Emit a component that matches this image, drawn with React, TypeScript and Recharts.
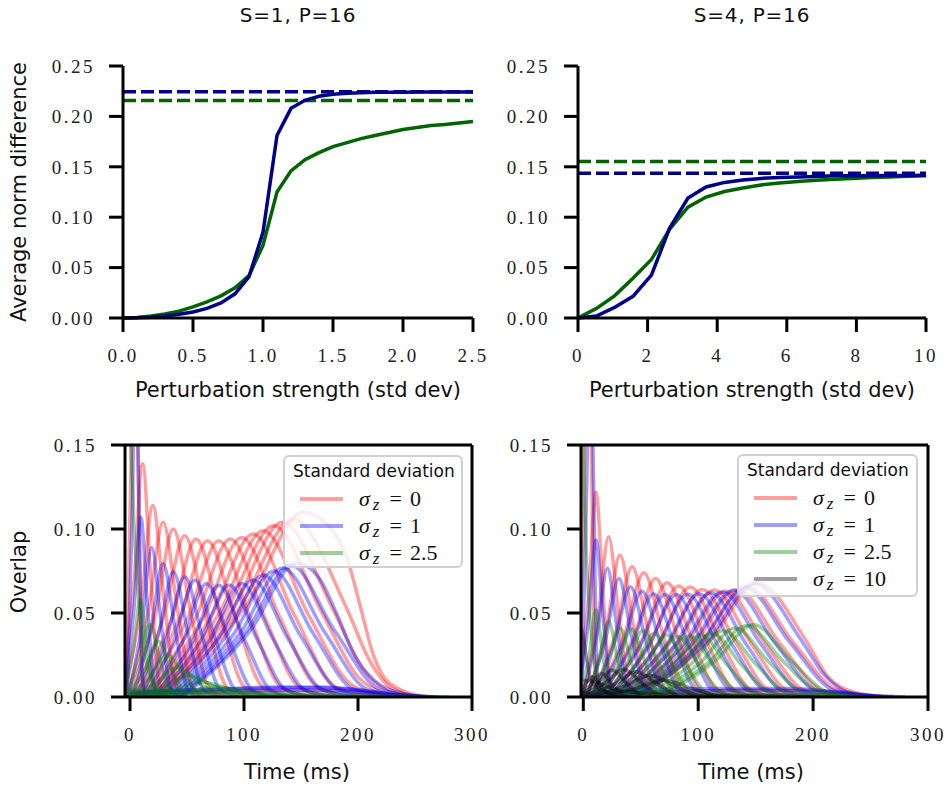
import { LineChart, Line, XAxis, YAxis, ReferenceLine } from 'recharts'

type Pt = [number, number]
type Curve = Pt[]

// ---- top row: average norm difference vs perturbation strength ----
const s1Strength = [0, 0.1, 0.2, 0.3, 0.4, 0.5, 0.6, 0.7, 0.8, 0.9, 1.0, 1.1, 1.2, 1.3, 1.4, 1.5, 1.6, 1.7, 1.8, 1.9, 2.0, 2.1, 2.2, 2.3, 2.4, 2.5]
const s1Blue = [0, 0.0002, 0.0008, 0.002, 0.0038, 0.006, 0.0095, 0.015, 0.024, 0.041, 0.085, 0.181, 0.208, 0.216, 0.22, 0.222, 0.223, 0.2235, 0.224, 0.224, 0.224, 0.2242, 0.2242, 0.2243, 0.2243, 0.2243]
const s1Green = [0, 0.0006, 0.002, 0.004, 0.0068, 0.011, 0.016, 0.022, 0.03, 0.042, 0.072, 0.125, 0.146, 0.157, 0.164, 0.17, 0.174, 0.178, 0.181, 0.184, 0.187, 0.189, 0.191, 0.192, 0.1935, 0.195]
const s1BlueRef = 0.2245
const s1GreenRef = 0.2157

const s4Strength = [0, 0.53, 1.05, 1.58, 2.11, 2.63, 3.16, 3.68, 4.21, 4.74, 5.26, 5.79, 6.32, 6.84, 7.37, 7.89, 8.42, 8.95, 9.47, 10]
const s4Blue = [0, 0.002, 0.0105, 0.0215, 0.0425, 0.089, 0.119, 0.13, 0.1345, 0.137, 0.1385, 0.1395, 0.14, 0.1405, 0.141, 0.141, 0.1412, 0.1413, 0.1414, 0.1415]
const s4Green = [0, 0.0095, 0.022, 0.0395, 0.058, 0.088, 0.11, 0.12, 0.1255, 0.129, 0.132, 0.134, 0.1355, 0.1367, 0.1377, 0.1385, 0.1393, 0.14, 0.1407, 0.1412]
const s4BlueRef = 0.1435
const s4GreenRef = 0.1553

const s1Ticks = [0, 0.5, 1, 1.5, 2, 2.5]
const s4Ticks = [0, 2, 4, 6, 8, 10]
const normTicks = [0, 0.05, 0.1, 0.15, 0.2, 0.25]

// ---- bottom row: overlap vs time, one curve per pattern ----
const timeTicks = [0, 100, 200, 300]
const overlapTicks = [0, 0.05, 0.1, 0.15]

const leftRed: Curve[] = [
  [[-3.5, 0], [1, 0.14], [4, 0.28], [7, 0.14], [10, 0.017], [13, 0]],
  [[-7, 0], [3.7, 0.07], [11, 0.139], [18.3, 0.07], [25.6, 0.008], [33, 0]],
  [[-5, 0], [10, 0.057], [20, 0.114], [30, 0.057], [40, 0.007], [50, 0]],
  [[-3, 0], [16.3, 0.052], [29, 0.104], [41.7, 0.052], [54.4, 0.006], [67, 0]],
  [[-0.5, 0], [22.6, 0.05], [38, 0.1], [53.4, 0.05], [68.8, 0.006], [84, 0]],
  [[2, 0], [29.6, 0.048], [48, 0.096], [66.4, 0.048], [84.8, 0.006], [103, 0]],
  [[4.5, 0], [36.6, 0.047], [58, 0.094], [79.4, 0.047], [100.8, 0.0056], [122, 0]],
  [[7, 0], [43.6, 0.047], [68, 0.093], [92.4, 0.047], [116.8, 0.0056], [141, 0]],
  [[9.5, 0], [50.6, 0.047], [78, 0.093], [105.4, 0.047], [132.8, 0.0056], [160, 0]],
  [[12, 0], [57.6, 0.047], [88, 0.094], [118.4, 0.047], [148.8, 0.0056], [179, 0]],
  [[14.5, 0], [64.6, 0.0475], [98, 0.095], [131.4, 0.0475], [164.8, 0.0057], [198, 0]],
  [[17, 0], [71.6, 0.0485], [108, 0.097], [144.4, 0.0485], [180.8, 0.0058], [217, 0]],
  [[19, 0], [77.9, 0.0495], [117, 0.099], [156.1, 0.0495], [193, 0.008], [215, 0.002], [235, 0]],
  [[21.5, 0], [84.2, 0.051], [126, 0.102], [167.8, 0.051], [200, 0.012], [220, 0.003], [245, 0]],
  [[23.5, 0], [89.8, 0.052], [134, 0.104], [178.2, 0.052], [205, 0.016], [225, 0.004], [250, 0]],
  [[26, 0], [96.1, 0.053], [143, 0.106], [189.9, 0.053], [210, 0.022], [228, 0.006], [255, 0]],
  [[28, 0], [102.4, 0.055], [152, 0.11], [175, 0.101], [190, 0.0835], [202, 0.054], [213, 0.026], [228, 0.008], [260, 0]],
  [[0, 0.002], [50, 0.003], [120, 0.004], [190, 0.004], [230, 0.001], [260, 0]],
]

const leftBlue: Curve[] = [
  [[-2.5, 0], [2, 0.11], [5, 0.22], [8, 0.11], [11, 0.013], [14, 0]],
  [[-5, 0], [3.6, 0.0535], [9.5, 0.107], [15.4, 0.0535], [21.3, 0.0064], [27, 0]],
  [[-1.6, 0], [10.75, 0.0445], [19, 0.089], [27.25, 0.0445], [35.5, 0.0053], [44, 0]],
  [[2, 0], [18.25, 0.04], [29, 0.0795], [39.75, 0.04], [50.5, 0.0048], [61, 0]],
  [[5.5, 0], [25, 0.0373], [38, 0.0746], [51, 0.0373], [64, 0.0045], [77, 0]],
  [[9, 0], [32.5, 0.0358], [48, 0.0716], [63.5, 0.0358], [79, 0.0043], [94.5, 0]],
  [[12.6, 0], [39.25, 0.0348], [57, 0.0696], [74.75, 0.0348], [92.5, 0.0042], [110, 0]],
  [[16.4, 0], [46.75, 0.0338], [67, 0.0676], [87.25, 0.0338], [107.5, 0.0041], [128, 0]],
  [[20.5, 0], [55, 0.0333], [78, 0.0665], [101, 0.0333], [124, 0.004], [147, 0]],
  [[24, 0], [61.75, 0.0333], [87, 0.0667], [112.25, 0.0333], [137.5, 0.004], [163, 0]],
  [[28, 0], [70, 0.0338], [98, 0.0675], [126, 0.0338], [154, 0.004], [182, 0]],
  [[31.75, 0], [77.5, 0.0348], [108, 0.0696], [138.5, 0.0348], [169, 0.0042], [199.5, 0]],
  [[35, 0], [84.25, 0.0363], [117, 0.0726], [149.75, 0.0363], [182.5, 0.0044], [215, 0]],
  [[38.5, 0], [91, 0.0375], [126, 0.075], [161, 0.0375], [196, 0.0045], [231, 0]],
  [[41.5, 0], [97, 0.0384], [134, 0.0768], [171, 0.0384], [208, 0.0046], [245, 0]],
  [[44, 0], [102.25, 0.0393], [141, 0.0785], [179.75, 0.0393], [218.5, 0.0047], [257, 0]],
  [[46, 0], [106, 0.04], [146, 0.0797], [167, 0.0696], [181, 0.05], [196, 0.026], [214, 0.01], [240, 0.002], [266, 0]],
  [[0, 0.002], [40, 0.004], [100, 0.005], [170, 0.006], [200, 0.004], [240, 0.001], [270, 0]],
  [[0, 0.003], [60, 0.004], [130, 0.006], [190, 0.005], [225, 0.002], [260, 0]],
  [[0, 0.001], [80, 0.003], [150, 0.004], [200, 0.003], [240, 0]],
]

const leftGreen: Curve[] = [
  [[-5, 0.3], [-2, 0.2], [0, 0.16], [4, 0.095], [8, 0.055], [13, 0.025], [20, 0.009], [30, 0.002], [45, 0]],
  [[-6.4, 0], [2.85, 0.029], [9, 0.058], [15.15, 0.029], [21.3, 0.0035], [27.5, 0]],
  [[-5.3, 0], [8.4, 0.0215], [17.5, 0.043], [26.6, 0.0215], [35.7, 0.0026], [45, 0]],
  [[-4.4, 0], [13.25, 0.0165], [25, 0.033], [36.75, 0.0165], [48.5, 0.002], [60, 0]],
  [[-3.4, 0], [18.45, 0.0125], [33, 0.025], [47.55, 0.0125], [62.1, 0.0015], [76.6, 0]],
  [[-2.25, 0], [24.3, 0.009], [42, 0.018], [59.7, 0.009], [77.4, 0.0011], [95, 0]],
  [[-1, 0], [30.8, 0.0065], [52, 0.013], [73.2, 0.0065], [94.4, 0.0008], [115.6, 0]],
  [[0.5, 0], [38, 0.0045], [63, 0.009], [88, 0.0045], [113, 0.0005], [138, 0]],
  [[2, 0], [46.4, 0.003], [76, 0.006], [105.6, 0.003], [135.2, 0.0004], [165, 0]],
  [[0, 0.004], [30, 0.004], [80, 0.003], [150, 0.002], [220, 0.001], [280, 0]],
  [[0, 0.002], [50, 0.002], [120, 0.001], [200, 0.0005], [260, 0]],
]

const rightRed: Curve[] = [
  [[-3.5, 0], [1, 0.15], [4, 0.3], [7, 0.15], [10, 0.018], [13, 0]],
  [[-4.6, 0], [4.75, 0.061], [11, 0.122], [17.25, 0.061], [23.5, 0.0073], [29.75, 0]],
  [[-0.5, 0], [13, 0.0477], [22, 0.0954], [31, 0.0477], [40, 0.0057], [49, 0]],
  [[3.25, 0], [20.5, 0.0423], [32, 0.0845], [43.5, 0.0423], [55, 0.0051], [66.5, 0]],
  [[7.25, 0], [28.4, 0.0388], [42.5, 0.0775], [56.6, 0.0388], [70.7, 0.0047], [84.8, 0]],
  [[11, 0], [36, 0.037], [52.7, 0.074], [69.4, 0.037], [86.1, 0.0044], [102.8, 0]],
  [[14.9, 0], [43.75, 0.0353], [63, 0.0706], [82.25, 0.0353], [101.5, 0.0042], [120.75, 0]],
  [[18.6, 0], [51.25, 0.034], [73, 0.068], [94.75, 0.034], [116.5, 0.0041], [138.25, 0]],
  [[22.4, 0], [58.75, 0.033], [83, 0.066], [107.25, 0.033], [131.5, 0.004], [155.75, 0]],
  [[26, 0], [66.25, 0.0328], [93, 0.0655], [119.75, 0.0328], [146.5, 0.0039], [173.25, 0]],
  [[30, 0], [74.2, 0.032], [103.6, 0.064], [133, 0.032], [162.4, 0.0038], [191.8, 0]],
  [[34, 0], [82, 0.0319], [114, 0.0637], [146, 0.0319], [178, 0.0038], [210, 0]],
  [[37.75, 0], [89.5, 0.0315], [124, 0.063], [158.5, 0.0315], [193, 0.0038], [227.5, 0]],
  [[41.5, 0], [97, 0.032], [134, 0.064], [171, 0.032], [208, 0.0038], [245, 0]],
  [[45, 0], [103.75, 0.033], [143, 0.066], [182.25, 0.033], [221.5, 0.004], [260.75, 0]],
  [[48, 0], [110.5, 0.034], [152, 0.068], [193.5, 0.034], [213, 0.012], [235, 0.003], [265, 0]],
  [[0, 0.002], [60, 0.003], [140, 0.004], [200, 0.004], [240, 0.001], [270, 0]],
]

const rightBlue: Curve[] = [
  [[-1.5, 0], [3, 0.125], [6, 0.25], [9, 0.125], [12, 0.015], [15, 0]],
  [[-4.6, 0], [4.75, 0.0467], [11, 0.0934], [17.25, 0.0467], [23.5, 0.0056], [29.75, 0]],
  [[-0.9, 0], [12.25, 0.0383], [21, 0.0766], [29.75, 0.0383], [38.5, 0.0046], [47.25, 0]],
  [[2.9, 0], [19.75, 0.0353], [31, 0.0706], [42.25, 0.0353], [53.5, 0.0042], [64.75, 0]],
  [[6.6, 0], [27.25, 0.0328], [41, 0.0656], [54.75, 0.0328], [68.5, 0.0039], [82.25, 0]],
  [[10.4, 0], [34.75, 0.0315], [51, 0.063], [67.25, 0.0315], [83.5, 0.0038], [99.75, 0]],
  [[14.1, 0], [42.25, 0.0308], [61, 0.0615], [79.75, 0.0308], [98.5, 0.0037], [117.25, 0]],
  [[17.9, 0], [49.75, 0.0305], [71, 0.061], [92.25, 0.0305], [113.5, 0.0037], [134.75, 0]],
  [[21.6, 0], [57.25, 0.0305], [81, 0.061], [104.75, 0.0305], [128.5, 0.0037], [152.25, 0]],
  [[25.4, 0], [64.75, 0.0306], [91, 0.0612], [117.25, 0.0306], [143.5, 0.0037], [169.75, 0]],
  [[29.1, 0], [72.25, 0.0308], [101, 0.0615], [129.75, 0.0308], [158.5, 0.0037], [187.25, 0]],
  [[32.9, 0], [79.75, 0.031], [111, 0.062], [142.25, 0.031], [173.5, 0.0037], [204.75, 0]],
  [[36.6, 0], [87.25, 0.0313], [121, 0.0625], [154.75, 0.0313], [188.5, 0.0038], [222.25, 0]],
  [[40.4, 0], [94.75, 0.0318], [131, 0.0635], [167.25, 0.0318], [203.5, 0.0038], [239.75, 0]],
  [[44.1, 0], [102.25, 0.0325], [141, 0.065], [179.75, 0.0325], [218.5, 0.0039], [257.25, 0]],
  [[47.1, 0], [108.25, 0.0338], [149, 0.0675], [189.75, 0.0338], [210, 0.013], [230, 0.003], [260, 0]],
  [[0, 0.002], [40, 0.004], [110, 0.005], [180, 0.005], [220, 0.003], [250, 0.001], [280, 0]],
  [[0, 0.001], [70, 0.003], [150, 0.004], [210, 0.003], [260, 0]],
]

const rightGreen: Curve[] = [
  [[-4, 0.3], [-1.5, 0.2], [1, 0.12], [3, 0.08], [6, 0.045], [10, 0.02], [16, 0.006], [25, 0]],
  [[-3.25, 0], [5.3, 0.026], [11, 0.052], [16.7, 0.026], [22.4, 0.0031], [28.1, 0]],
  [[2.25, 0], [14.1, 0.0225], [22, 0.045], [29.9, 0.0225], [37.8, 0.0027], [45.7, 0]],
  [[7.25, 0], [22.1, 0.0205], [32, 0.041], [41.9, 0.0205], [51.8, 0.0025], [61.7, 0]],
  [[12.25, 0], [30.1, 0.0203], [42, 0.0405], [53.9, 0.0203], [65.8, 0.0024], [77.7, 0]],
  [[17.25, 0], [38.1, 0.0198], [52, 0.0396], [65.9, 0.0198], [79.8, 0.0024], [93.7, 0]],
  [[22.25, 0], [46.1, 0.019], [62, 0.038], [77.9, 0.019], [93.8, 0.0023], [109.7, 0]],
  [[27.25, 0], [54.1, 0.0185], [72, 0.037], [89.9, 0.0185], [107.8, 0.0022], [125.7, 0]],
  [[32.25, 0], [62.1, 0.018], [82, 0.036], [101.9, 0.018], [121.8, 0.0022], [141.7, 0]],
  [[37.25, 0], [70.1, 0.0183], [92, 0.0365], [113.9, 0.0183], [135.8, 0.0022], [157.7, 0]],
  [[42.25, 0], [78.1, 0.0185], [102, 0.037], [125.9, 0.0185], [149.8, 0.0022], [173.7, 0]],
  [[47.25, 0], [86.1, 0.019], [112, 0.038], [137.9, 0.019], [163.8, 0.0023], [189.7, 0]],
  [[52.25, 0], [94.1, 0.0198], [122, 0.0395], [149.9, 0.0198], [177.8, 0.0024], [205.7, 0]],
  [[57.25, 0], [102.1, 0.0205], [132, 0.041], [161.9, 0.0205], [191.8, 0.0025], [221.7, 0]],
  [[62.25, 0], [110.1, 0.0213], [142, 0.0425], [173.9, 0.0213], [205.8, 0.0026], [237.7, 0]],
  [[65.25, 0], [114.9, 0.0215], [148, 0.043], [181.1, 0.0215], [214.2, 0.0026], [247.3, 0]],
  [[0, 0.003], [50, 0.003], [130, 0.002], [210, 0.001], [270, 0]],
]

const rightBlack: Curve[] = [
  [[-2, 0.042], [0, 0.036], [3, 0.022], [6, 0.012], [10, 0.007], [20, 0.003], [40, 0]],
  [[-12, 0], [0, 0.006], [8, 0.012], [16, 0.006], [24, 0.0007], [32, 0]],
  [[-9, 0], [6, 0.007], [16, 0.014], [26, 0.007], [36, 0.0008], [46, 0]],
  [[-7.5, 0], [12, 0.008], [25, 0.016], [38, 0.008], [51, 0.001], [64, 0]],
  [[-5, 0], [19, 0.0083], [35, 0.0165], [51, 0.0083], [67, 0.001], [83, 0]],
  [[-1.5, 0], [27, 0.0075], [46, 0.015], [65, 0.0075], [84, 0.0009], [103, 0]],
  [[3, 0], [36, 0.0065], [58, 0.013], [80, 0.0065], [102, 0.0008], [124, 0]],
  [[7.5, 0], [45, 0.005], [70, 0.01], [95, 0.005], [120, 0.0006], [145, 0]],
  [[0, 0.01], [10, 0.009], [30, 0.004], [60, 0.002], [120, 0.001], [200, 0]],
]

const leftSigmas = ['0', '1', '2.5']
const rightSigmas = ['0', '1', '2.5', '10']

const NAVY = '#00008b'
const DKGREEN = '#006400'
const sigmaColors = ['#ff0000', '#0000ff', '#008000', '#000000']

const SERIF = "'Liberation Serif', 'DejaVu Serif', serif"
const SANS = "'DejaVu Sans', sans-serif"

const axisLine = { stroke: '#000', strokeWidth: 3 }
const tickLine = { stroke: '#000', strokeWidth: 3 }

function SerifTick(props: any) {
  const { x, y, payload, textAnchor, vertical, format } = props
  return (
    <text
      x={x}
      y={y}
      dy={vertical ? '0.36em' : '0.72em'}
      textAnchor={textAnchor}
      fill="#222"
      fontFamily={SERIF}
      fontSize={19}
      letterSpacing={2.5}
    >
      {format(payload.value)}
    </text>
  )
}

const f2 = (v: number) => v.toFixed(2)
const f1 = (v: number) => v.toFixed(1)
const f0 = (v: number) => String(v)

function NormChart({ xs, blue, green, blueRef, greenRef, ticks, domainMax, fmtX, marginLeft, marginRight, width }: any) {
  const rows = xs.map((x: number, i: number) => ({ x, blue: blue[i], green: green[i] }))
  return (
    <LineChart width={width} height={400} data={rows} margin={{ top: 66, right: marginRight, bottom: 52, left: marginLeft }}>
      <XAxis
        type="number"
        dataKey="x"
        domain={[0, domainMax]}
        ticks={ticks}
        height={30}
        axisLine={axisLine}
        tickLine={tickLine}
        tickSize={14}
        tickMargin={16}
        tick={(p: any) => <SerifTick {...p} format={fmtX} />}
      />
      <YAxis
        type="number"
        domain={[0, 0.25]}
        ticks={normTicks}
        width={60}
        axisLine={axisLine}
        tickLine={tickLine}
        tickSize={14}
        tickMargin={14}
        tick={(p: any) => <SerifTick {...p} vertical format={f2} />}
      />
      <ReferenceLine y={blueRef} stroke={NAVY} strokeWidth={3.5} strokeDasharray="13 5" />
      <ReferenceLine y={greenRef} stroke={DKGREEN} strokeWidth={3.5} strokeDasharray="13 5" />
      <Line type="linear" dataKey="green" stroke={DKGREEN} strokeWidth={3.5} dot={false} isAnimationActive={false} />
      <Line type="linear" dataKey="blue" stroke={NAVY} strokeWidth={3.5} dot={false} isAnimationActive={false} />
    </LineChart>
  )
}

function OverlapChart({ sets, domainMin, marginLeft, marginRight, width }: any) {
  return (
    <LineChart width={width} height={389} margin={{ top: 45, right: marginRight, bottom: 62, left: marginLeft }}>
      <XAxis
        type="number"
        dataKey="t"
        domain={[domainMin, 300]}
        allowDataOverflow
        ticks={timeTicks}
        height={30}
        axisLine={axisLine}
        tickLine={tickLine}
        tickSize={14}
        tickMargin={16}
        tick={(p: any) => <SerifTick {...p} format={f0} />}
      />
      <YAxis
        type="number"
        domain={[0, 0.15]}
        allowDataOverflow
        ticks={overlapTicks}
        width={60}
        axisLine={axisLine}
        tickLine={tickLine}
        tickSize={14}
        tickMargin={14}
        tick={(p: any) => <SerifTick {...p} vertical format={f2} />}
      />
      {sets.map((curves: Curve[], si: number) =>
        curves.map((c, ci) => (
          <Line
            key={`s${si}-${ci}`}
            data={c.map(([t, v]) => ({ t, v }))}
            dataKey="v"
            type="monotone"
            stroke={sigmaColors[si]}
            strokeOpacity={0.38}
            strokeWidth={3.5}
            dot={false}
            isAnimationActive={false}
          />
        ))
      )}
      <ReferenceLine y={0.15} stroke="#000" strokeWidth={3} />
      <ReferenceLine x={300} stroke="#000" strokeWidth={3} />
    </LineChart>
  )
}

function SigmaLegend({ x, y, w, h, sigmas }: any) {
  return (
    <div
      style={{
        position: 'absolute',
        left: x,
        top: y,
        width: w,
        height: h,
        boxSizing: 'border-box',
        border: '2px solid #d0d0d0',
        borderRadius: 6,
        background: 'rgba(255,255,255,0.8)',
      }}
    >
      <div style={{ position: 'absolute', left: 8, top: 4, fontFamily: SANS, fontSize: 17, color: '#111', whiteSpace: 'nowrap' }}>
        Standard deviation
      </div>
      {sigmas.map((s: string, i: number) => (
        <div key={s} style={{ position: 'absolute', left: 15, top: 42 + i * 27 - 13, height: 26, display: 'flex', alignItems: 'center', whiteSpace: 'nowrap' }}>
          <span style={{ display: 'inline-block', width: 43, height: 4, background: sigmaColors[i], opacity: 0.38 }} />
          <span style={{ marginLeft: 16, fontFamily: SERIF, fontSize: 22, color: '#111' }}>
            <i>σ</i>
            <i style={{ fontSize: 17, position: 'relative', top: 4, marginLeft: 3 }}>z</i>
            <span style={{ marginLeft: 10 }}>=</span>
            <span style={{ marginLeft: 8 }}>{s}</span>
          </span>
        </div>
      ))}
    </div>
  )
}

function Label({ x, y, text, size, spacing, rotate }: any) {
  return (
    <div
      style={{
        position: 'absolute',
        left: x,
        top: y,
        transform: `translate(-50%, -50%)${rotate ? ' rotate(-90deg)' : ''}`,
        fontFamily: SANS,
        fontSize: size,
        letterSpacing: spacing || 0,
        color: '#111',
        whiteSpace: 'nowrap',
      }}
    >
      {text}
    </div>
  )
}

export default function App() {
  return (
    <div style={{ position: 'absolute', left: 0, top: 0, width: 950, height: 789, background: '#fff', overflow: 'hidden' }}>
      <div style={{ position: 'absolute', left: 0, top: 0 }}>
        <NormChart xs={s1Strength} blue={s1Blue} green={s1Green} blueRef={s1BlueRef} greenRef={s1GreenRef}
          ticks={s1Ticks} domainMax={2.5} fmtX={f1} marginLeft={63} marginRight={17} width={490} />
      </div>
      <div style={{ position: 'absolute', left: 480, top: 0 }}>
        <NormChart xs={s4Strength} blue={s4Blue} green={s4Green} blueRef={s4BlueRef} greenRef={s4GreenRef}
          ticks={s4Ticks} domainMax={10} fmtX={f0} marginLeft={38} marginRight={24} width={470} />
      </div>
      <div style={{ position: 'absolute', left: 0, top: 400 }}>
        <OverlapChart sets={[leftRed, leftBlue, leftGreen]} domainMin={-4.4} marginLeft={65} marginRight={18} width={490} />
      </div>
      <div style={{ position: 'absolute', left: 480, top: 400 }}>
        <OverlapChart sets={[rightRed, rightBlue, rightGreen, rightBlack]} domainMin={-2} marginLeft={41} marginRight={22} width={470} />
      </div>

      <SigmaLegend x={283} y={455} w={180} h={113} sigmas={leftSigmas} />
      <SigmaLegend x={737} y={454} w={181} h={143} sigmas={rightSigmas} />

      <Label x={298} y={15} text="S=1, P=16" size={20} spacing={0.8} />
      <Label x={752} y={15} text="S=4, P=16" size={20} spacing={0.8} />
      <Label x={19} y={192} text="Average norm difference" size={21} rotate />
      <Label x={19} y={572} text="Overlap" size={21} rotate />
      <Label x={298} y={390} text="Perturbation strength (std dev)" size={21} />
      <Label x={752} y={390} text="Perturbation strength (std dev)" size={21} />
      <Label x={297} y={772} text="Time (ms)" size={21} />
      <Label x={751} y={772} text="Time (ms)" size={21} />
    </div>
  )
}
